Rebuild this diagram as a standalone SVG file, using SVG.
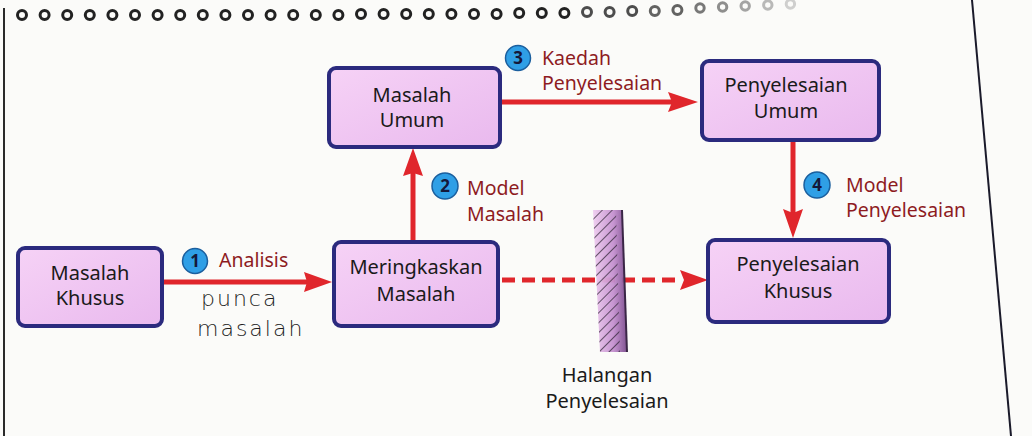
<svg xmlns="http://www.w3.org/2000/svg" width="1032" height="436" viewBox="0 0 1032 436">
  <defs>
    <style>
      .box { fill: url(#boxFill); stroke: #2b2a7e; stroke-width: 4; }
      .bt { font-family: "Noto Sans", "Open Sans", sans-serif; font-size: 20px; fill: #1a1a1a; text-anchor: middle; }
      .lt { font-family: "Noto Sans", "Open Sans", sans-serif; font-size: 19.5px; fill: #8e1b1f; }
      .ht { font-family: "Noto Sans", "Open Sans", sans-serif; font-size: 20px; fill: #1a1a1a; text-anchor: middle; }
      .badge { fill: #2f9fe6; stroke: #1b5f9e; stroke-width: 1.5; }
      .bn { font-family: "Noto Sans", sans-serif; font-size: 17px; font-weight: bold; fill: #14183a; text-anchor: middle; }
      .conn { stroke: #e0262c; stroke-width: 5; fill: none; }
      .head { fill: #e0262c; }
      .hand { font-family: "DejaVu Sans", sans-serif; font-weight: 300; font-size: 22px; fill: #1e1e1e; letter-spacing: 2px; }
      .ring { fill: none; stroke: #222; stroke-width: 3; }
    </style>
    <linearGradient id="boxFill" x1="0" y1="0" x2="1" y2="1">
      <stop offset="0" stop-color="#f6d2f6"/>
      <stop offset="1" stop-color="#e9b9ee"/>
    </linearGradient>
    <linearGradient id="wallFill" x1="0" y1="0" x2="1" y2="0">
      <stop offset="0" stop-color="#efcdf0"/>
      <stop offset="0.6" stop-color="#c490cf"/>
      <stop offset="1" stop-color="#7a4a8c"/>
    </linearGradient>
    <pattern id="hatch" width="7" height="7" patternUnits="userSpaceOnUse" patternTransform="rotate(45)">
      <line x1="0" y1="0" x2="0" y2="7" stroke="#2a2030" stroke-width="1.4"/>
    </pattern>
    <clipPath id="wallClip">
      <polygon points="593,210 616,210 620,352 600,352"/>
    </clipPath>
  </defs>

  <rect width="1032" height="436" fill="#fbfbf9"/>

  <!-- page edges -->
  <line x1="4" y1="8" x2="4" y2="436" stroke="#2a2a2a" stroke-width="2"/>
  <line x1="972" y1="0" x2="1011" y2="436" stroke="#1a1a2a" stroke-width="2"/>

  <!-- binding holes -->
  <g id="holes">
    <circle class="ring" cx="22" cy="15" r="4.5"/>
    <circle class="ring" cx="44.6" cy="15" r="4.5"/>
    <circle class="ring" cx="67.2" cy="15" r="4.5"/>
    <circle class="ring" cx="89.8" cy="15" r="4.5"/>
    <circle class="ring" cx="112.4" cy="15" r="4.5"/>
    <circle class="ring" cx="135" cy="15" r="4.5"/>
    <circle class="ring" cx="157.6" cy="15" r="4.5"/>
    <circle class="ring" cx="180.2" cy="15" r="4.5"/>
    <circle class="ring" cx="202.8" cy="15" r="4.5"/>
    <circle class="ring" cx="225.4" cy="15" r="4.5"/>
    <circle class="ring" cx="248" cy="15" r="4.5"/>
    <circle class="ring" cx="270.6" cy="15" r="4.5"/>
    <circle class="ring" cx="293.2" cy="15" r="4.5"/>
    <circle class="ring" cx="315.8" cy="15" r="4.5"/>
    <circle class="ring" cx="338.4" cy="15" r="4.5"/>
    <circle class="ring" cx="361" cy="14" r="4.5"/>
    <circle class="ring" cx="383.6" cy="14" r="4.5"/>
    <circle class="ring" cx="406.2" cy="14" r="4.5"/>
    <circle class="ring" cx="428.8" cy="14" r="4.5"/>
    <circle class="ring" cx="451.4" cy="14" r="4.5"/>
    <circle class="ring" cx="474" cy="14" r="4.5"/>
    <circle class="ring" cx="496.6" cy="14" r="4.5"/>
    <circle class="ring" cx="519.2" cy="13" r="4.5"/>
    <circle class="ring" cx="541.8" cy="13" r="4.5"/>
    <circle class="ring" cx="564.4" cy="13" r="4.5"/>
    <circle class="ring" cx="587" cy="12" r="4.5" opacity="0.8"/>
    <circle class="ring" cx="609.6" cy="12" r="4.5" opacity="0.8"/>
    <circle class="ring" cx="632.2" cy="11" r="4.5" opacity="0.8"/>
    <circle class="ring" cx="654.8" cy="11" r="4.5" opacity="0.7"/>
    <circle class="ring" cx="677.4" cy="10" r="4.5" opacity="0.7"/>
    <circle class="ring" cx="700" cy="8" r="4.2" opacity="0.6"/>
    <circle class="ring" cx="722.6" cy="7" r="4.2" opacity="0.5"/>
    <circle class="ring" cx="745.2" cy="6" r="4.2" opacity="0.4"/>
    <circle class="ring" cx="767.8" cy="5" r="4.2" opacity="0.3"/>
    <circle class="ring" cx="790.4" cy="4" r="4.2" opacity="0.2"/>
  </g>

  <!-- connectors -->
  <g id="connectors">
    <line class="conn" x1="163" y1="282" x2="308" y2="282"/>
    <polygon class="head" points="332,282 304,272 307,282 304,292"/>

    <line class="conn" x1="413" y1="241" x2="413" y2="172"/>
    <polygon class="head" points="413,148 403,176 413,173 423,176"/>

    <line class="conn" x1="501" y1="102" x2="672" y2="102"/>
    <polygon class="head" points="698,102 668,92 672,102 668,112"/>

    <line class="conn" x1="793" y1="141" x2="793" y2="213"/>
    <polygon class="head" points="793,238 783,209 793,213 803,209"/>

    <line class="conn" x1="502" y1="280" x2="682" y2="280" stroke-width="6" stroke-dasharray="13 7"/>
    <polygon class="head" points="708,280 680,270 684,280 680,290"/>
  </g>

  <!-- barrier -->
  <g id="halangan">
    <polygon points="593,210 622,210 627,352 600,352" fill="url(#wallFill)" opacity="0.95"/>
    <rect x="590" y="205" width="40" height="150" fill="url(#hatch)" clip-path="url(#wallClip)"/>
    <line x1="622" y1="210" x2="627" y2="352" stroke="#3a2646" stroke-width="2"/>
    <text class="ht" x="607" y="382">Halangan</text>
    <text class="ht" x="607" y="408">Penyelesaian</text>
  </g>

  <!-- nodes -->
  <g id="masalah-khusus">
    <rect class="box" x="18" y="248" width="144" height="78" rx="7"/>
    <text class="bt" x="90" y="280">Masalah</text>
    <text class="bt" x="90" y="305">Khusus</text>
  </g>

  <g id="meringkaskan-masalah">
    <rect class="box" x="334" y="242" width="164" height="84" rx="7"/>
    <text class="bt" x="416" y="274">Meringkaskan</text>
    <text class="bt" x="416" y="301">Masalah</text>
  </g>

  <g id="masalah-umum">
    <rect class="box" x="329" y="68" width="171" height="79" rx="7"/>
    <text class="bt" x="412" y="102">Masalah</text>
    <text class="bt" x="412" y="127">Umum</text>
  </g>

  <g id="penyelesaian-umum">
    <rect class="box" x="702" y="61" width="177" height="79" rx="7"/>
    <text class="bt" x="786" y="92">Penyelesaian</text>
    <text class="bt" x="786" y="118">Umum</text>
  </g>

  <g id="penyelesaian-khusus">
    <rect class="box" x="708" y="240" width="181" height="82" rx="7"/>
    <text class="bt" x="798" y="271">Penyelesaian</text>
    <text class="bt" x="798" y="298">Khusus</text>
  </g>

  <!-- step labels -->
  <g id="label-1">
    <circle class="badge" cx="195" cy="261" r="12.5"/>
    <text class="bn" x="195" y="267">1</text>
    <text class="lt" x="219" y="267">Analisis</text>
  </g>
  <g id="label-2">
    <circle class="badge" cx="445" cy="186" r="13"/>
    <text class="bn" x="445" y="192">2</text>
    <text class="lt" x="467" y="195">Model</text>
    <text class="lt" x="467" y="221">Masalah</text>
  </g>
  <g id="label-3">
    <circle class="badge" cx="518" cy="58" r="12.5"/>
    <text class="bn" x="518" y="64">3</text>
    <text class="lt" x="542" y="65">Kaedah</text>
    <text class="lt" x="542" y="90">Penyelesaian</text>
  </g>
  <g id="label-4">
    <circle class="badge" cx="817" cy="185" r="13"/>
    <text class="bn" x="817" y="191">4</text>
    <text class="lt" x="846" y="192">Model</text>
    <text class="lt" x="846" y="217">Penyelesaian</text>
  </g>

  <!-- handwritten note -->
  <g id="note">
    <text class="hand" x="201" y="306">punca</text>
    <text class="hand" x="197" y="336">masalah</text>
  </g>
</svg>
